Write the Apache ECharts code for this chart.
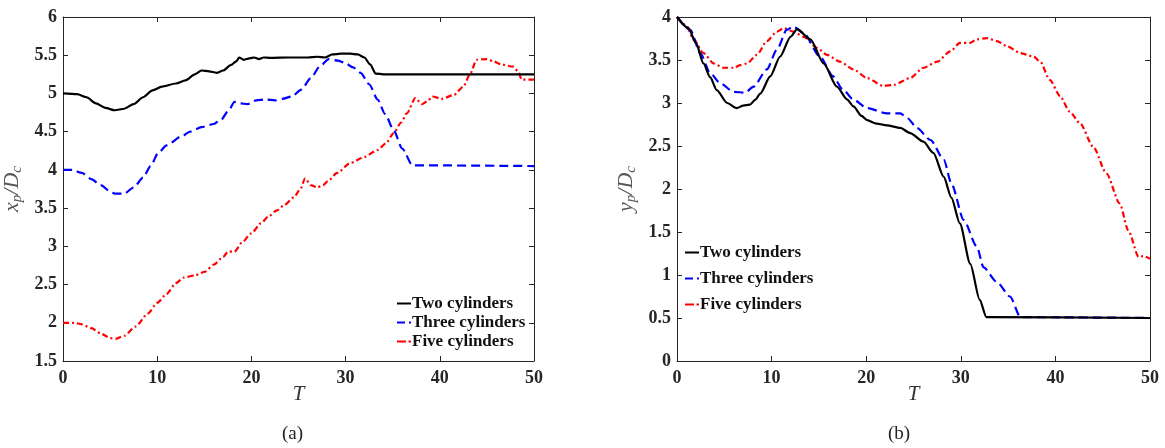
<!DOCTYPE html>
<html>
<head>
<meta charset="utf-8">
<script src="https://cdn.jsdelivr.net/npm/echarts@6/dist/echarts.min.js"></script>
<style>
  html, body { margin: 0; padding: 0; background: #fff; }
  #chart { width: 1165px; height: 448px; }
</style>
</head>
<body>
<div id="chart"></div>
<script>
// (a) x_p / D_c against T
const twoX = [[0,5.0],[1.5,4.99],[2.5,4.95],[3.5,4.87],[4.5,4.81],[5.5,4.78],[6.5,4.8],[7.5,4.86],[8.5,4.95],[9.5,5.04],[10.5,5.09],[12,5.13],[13,5.17],[14,5.25],[14.7,5.3],[15.5,5.29],[16.3,5.27],[17,5.3],[17.8,5.37],[18.4,5.42],[18.7,5.47],[19.2,5.44],[19.8,5.46],[20.3,5.47],[20.8,5.45],[21.3,5.47],[22,5.465],[24,5.47],[26,5.47],[27,5.48],[27.8,5.47],[28.6,5.51],[29.5,5.52],[30.5,5.52],[31.3,5.51],[32,5.47],[32.6,5.38],[33.2,5.26],[34,5.25],[50,5.25]];
const threeX = [[0,4.0],[1,4.0],[2,3.96],[3,3.88],[4,3.8],[5,3.72],[5.5,3.69],[6.5,3.69],[7.5,3.77],[8.5,3.9],[9.3,4.05],[10.1,4.22],[11,4.32],[12.6,4.44],[13.5,4.5],[14.7,4.56],[16,4.6],[16.8,4.66],[17.6,4.78],[18.2,4.89],[18.8,4.87],[19.6,4.86],[20.5,4.91],[21.5,4.92],[22.5,4.91],[23.3,4.93],[24.3,4.96],[25.3,5.05],[26.3,5.2],[27.3,5.36],[28.2,5.45],[29.2,5.43],[29.9,5.4],[30.8,5.34],[31.6,5.27],[32.5,5.12],[33.4,4.92],[34.2,4.73],[35.1,4.52],[36,4.28],[37.1,4.06],[50,4.05]];
const fiveX = [[0,2.0],[1.2,2.0],[2,1.98],[3,1.93],[4,1.86],[5,1.8],[5.6,1.79],[6.5,1.83],[7.7,1.95],[9,2.12],[10,2.26],[11,2.38],[12,2.52],[12.8,2.59],[14,2.62],[15.1,2.67],[16,2.76],[17,2.86],[17.5,2.93],[18.2,2.93],[19,3.05],[20,3.17],[21,3.3],[21.8,3.39],[22.7,3.47],[23.5,3.54],[24.5,3.64],[25.2,3.75],[25.7,3.89],[26.3,3.8],[27,3.77],[27.6,3.8],[28.1,3.85],[29.1,3.96],[30.5,4.09],[32,4.17],[33.4,4.26],[34.3,4.35],[35.1,4.48],[35.9,4.62],[36.5,4.74],[37.4,4.94],[38.1,4.86],[38.7,4.9],[39.2,4.96],[40.2,4.93],[41.5,4.98],[42.5,5.09],[43.2,5.25],[43.9,5.44],[45,5.45],[45.7,5.42],[46.5,5.38],[47.8,5.35],[48.3,5.29],[48.7,5.18],[50,5.18]];

// (b) y_p / D_c against T
const twoY = [[0,4.0],[1.2,3.87],[2,3.7],[2.8,3.46],[3.5,3.3],[4.2,3.15],[5.3,3.0],[6.3,2.94],[7,2.97],[7.7,2.98],[8.3,3.04],[8.8,3.11],[9.86,3.31],[10.9,3.54],[12,3.77],[12.7,3.86],[14.1,3.74],[15.5,3.46],[16.9,3.19],[18,3.04],[18.65,2.96],[19.5,2.85],[20.1,2.8],[21.1,2.76],[22.2,2.74],[23.6,2.71],[24.65,2.65],[26.05,2.55],[27.1,2.42],[28.2,2.14],[29,1.9],[29.9,1.6],[31,1.13],[32,0.71],[32.7,0.51],[50,0.5]];
const threeY = [[0,4.0],[1.4,3.85],[2.46,3.58],[3.5,3.35],[4.57,3.23],[5.98,3.13],[7.2,3.12],[8.1,3.19],[9.5,3.39],[10.56,3.62],[11.6,3.85],[12.3,3.89],[13.4,3.81],[15.1,3.54],[16.5,3.31],[17.5,3.16],[18.65,3.04],[20.1,2.94],[22.2,2.88],[23.6,2.88],[24.4,2.82],[25.35,2.71],[26.8,2.57],[28.2,2.34],[29.05,2.05],[30.3,1.64],[31.7,1.33],[32.4,1.09],[33.8,0.92],[35.2,0.75],[36.3,0.51],[50,0.5]];
const fiveY = [[0,4.0],[1,3.9],[1.75,3.74],[2.8,3.58],[3.87,3.46],[4.9,3.41],[6,3.41],[6.7,3.44],[7.4,3.46],[8.45,3.56],[9.5,3.72],[10.56,3.83],[11.3,3.87],[12.3,3.83],[13.4,3.77],[14.8,3.64],[15.85,3.56],[17.25,3.48],[18.65,3.39],[20.1,3.29],[21.8,3.2],[22.9,3.21],[24.65,3.29],[26.05,3.41],[27.5,3.48],[28.9,3.6],[29.9,3.7],[30.95,3.7],[31.7,3.74],[32.75,3.755],[33.8,3.72],[34.9,3.66],[36.3,3.58],[37.7,3.54],[38.4,3.48],[39.4,3.27],[40.5,3.08],[41.5,2.9],[42.6,2.765],[44,2.49],[45.4,2.18],[46.8,1.83],[47.7,1.52],[48.8,1.21],[49.3,1.22],[50,1.19]];

const names = ['Two cylinders', 'Three cylinders', 'Five cylinders'];
const colors = ['#000000', '#0000ff', '#ff0000'];
const dashes = ['solid', [9, 5], [6, 3, 2, 3]];
// little line samples drawn in the legend boxes
const legendIcons = [
  'path://M0,0h14v2h-14z',
  'path://M0,0h8v2h-8z M12,0h2v2h-2z',
  'path://M0,0h9v2h-9z M11.5,0h2.5v2h-2.5z'
];

const serif = '"Liberation Serif", "DejaVu Serif", serif';
const axisColor = '#262626';

const chart = echarts.init(document.getElementById('chart'));

function xAxisPair(gridIndex) {
  const base = {
    gridIndex: gridIndex, type: 'value', min: 0, max: 50, interval: 10,
    splitLine: { show: false },
    axisLine: { show: true, onZero: false, lineStyle: { color: axisColor, width: 1 } },
    axisTick: { show: true, inside: true, length: 5, lineStyle: { color: axisColor } }
  };
  return [
    Object.assign({}, base, {
      position: 'bottom',
      axisLabel: { color: '#262626', fontFamily: serif, fontWeight: 'bold', fontSize: 18, margin: 8 },
      name: 'T', nameLocation: 'middle', nameGap: 23, nameMoveOverlap: false,
      nameTextStyle: { fontFamily: serif, fontStyle: 'italic', fontSize: 21, color: '#333' }
    }),
    Object.assign({}, base, { position: 'top', axisLabel: { show: false } })
  ];
}

function yAxisPair(gridIndex, min, max, nameRich) {
  const base = {
    gridIndex: gridIndex, type: 'value', min: min, max: max, interval: 0.5,
    splitLine: { show: false },
    axisLine: { show: true, onZero: false, lineStyle: { color: axisColor, width: 1 } },
    axisTick: { show: true, inside: true, length: 5, lineStyle: { color: axisColor } }
  };
  return [
    Object.assign({}, base, {
      position: 'left',
      axisLabel: { color: '#262626', fontFamily: serif, fontWeight: 'bold', fontSize: 18, margin: 6 },
      name: nameRich, nameLocation: 'middle', nameGap: 38,
      nameTextStyle: {
        color: '#555',
        rich: {
          i: { fontFamily: serif, fontStyle: 'italic', fontSize: 22, color: '#555', lineHeight: 26, verticalAlign: 'middle' },
          s: { fontFamily: serif, fontStyle: 'italic', fontSize: 15, color: '#555', lineHeight: 26, verticalAlign: 'bottom' }
        }
      }
    }),
    Object.assign({}, base, { position: 'right', axisLabel: { show: false } })
  ];
}

function makeSeries(data, idx, gi) {
  return {
    name: names[idx], type: 'line', data: data,
    xAxisIndex: gi * 2, yAxisIndex: gi * 2,
    showSymbol: false, symbol: 'none',
    smooth: 0.25, smoothMonotone: 'x',
    lineStyle: { color: colors[idx], width: 2.2, type: dashes[idx] },
    itemStyle: { color: colors[idx] },
    z: 3 - idx
  };
}

const legendData = names.map(function (n, i) {
  return { name: n, icon: legendIcons[i], itemStyle: { color: colors[i] } };
});
const legendText = { fontFamily: serif, fontWeight: 'bold', fontSize: 17, color: '#111', padding: [0, 0, 0, -4] };

chart.setOption({
  animation: false,
  backgroundColor: '#fff',
  grid: [
    { left: 61, top: 17, width: 473, height: 344 },
    { left: 677, top: 17, width: 473, height: 344 }
  ],
  xAxis: xAxisPair(0).concat(xAxisPair(1)),
  yAxis: yAxisPair(0, 1.5, 6, '{i|x}{s|p}{i|/D}{s|c}').concat(yAxisPair(1, 0, 4, '{i|y}{s|p}{i|/D}{s|c}')),
  legend: [
    {
      data: legendData, left: 397, top: 295, orient: 'vertical',
      itemWidth: 14, itemHeight: 3, itemGap: 2,
      textStyle: legendText, padding: 0,
      selectedMode: false
    },
    {
      data: legendData, left: 685, top: 244, orient: 'vertical',
      itemWidth: 14, itemHeight: 3, itemGap: 9,
      textStyle: legendText, padding: 0,
      selectedMode: false
    }
  ],
  series: [
    makeSeries(twoX, 0, 0), makeSeries(threeX, 1, 0), makeSeries(fiveX, 2, 0),
    makeSeries(twoY, 0, 1), makeSeries(threeY, 1, 1), makeSeries(fiveY, 2, 1)
  ],
  graphic: [
    { type: 'text', left: 282, top: 425, style: { text: '(a)', font: '19px ' + serif, fill: '#222' } },
    { type: 'text', left: 888, top: 425, style: { text: '(b)', font: '19px ' + serif, fill: '#222' } }
  ]
});
</script>
</body>
</html>
